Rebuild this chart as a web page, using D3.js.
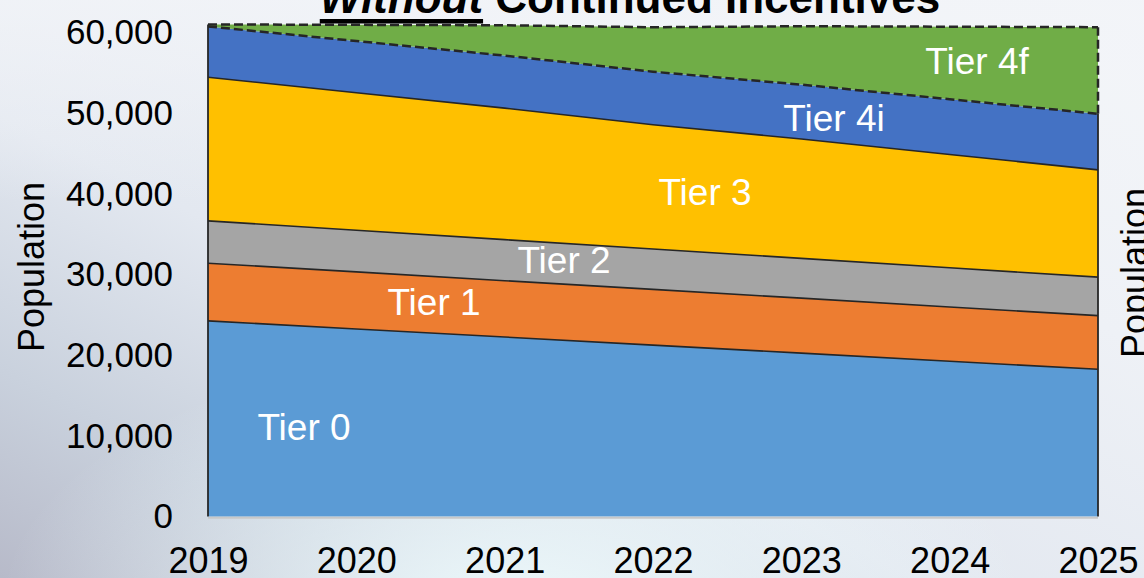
<!DOCTYPE html>
<html>
<head>
<meta charset="utf-8">
<script src="https://cdn.jsdelivr.net/npm/d3@7"></script>
<style>
  html, body { margin: 0; padding: 0; overflow: hidden; background: #e8ecf2; }
  svg { display: block; font-family: "Liberation Sans", Arial, sans-serif; }
</style>
</head>
<body>
<svg id="chart" width="1144" height="578"></svg>
<script>
// ---- data ----
const years = [2019, 2020, 2021, 2022, 2023, 2024, 2025];
const tierNames = ["Tier 0", "Tier 1", "Tier 2", "Tier 3", "Tier 4i", "Tier 4f"];
const tier0  = [24250, 23250, 22250, 21250, 20250, 19250, 18250];
const tier1  = [7150, 7070, 6980, 6900, 6820, 6730, 6650];
const tier2  = [5250, 5170, 5090, 5010, 4930, 4850, 4770];
const tier3  = [17800, 17050, 16300, 15400, 14800, 14050, 13300];
const tier4i = [6300, 6400, 6520, 6580, 6740, 6850, 6950];
const tier4f = [250, 2010, 3760, 5510, 7240, 8990, 10740];
const yTicks = [0, 10000, 20000, 30000, 40000, 50000, 60000];
const titleItalic = "Without";
const titleRest = " Continued Incentives";
const axisTitle = "Population";

// ---- layout / style ----
const W = 1144, H = 578;
const colors = ["#5B9BD5", "#ED7D31", "#A5A5A5", "#FFC000", "#4472C4", "#70AD47"];
const svg = d3.select("#chart");

// background gradient
const defs = svg.append("defs");
const lg = defs.append("linearGradient").attr("id", "bg")
  .attr("x1", "0%").attr("y1", "100%").attr("x2", "100%").attr("y2", "0%");
[["0%", "#b7bac9"], ["18%", "#c9d1dd"], ["40%", "#e3e8f0"], ["70%", "#eef1f6"], ["100%", "#f4f6f9"]]
  .forEach(([o, c]) => lg.append("stop").attr("offset", o).attr("stop-color", c));
const rg = defs.append("radialGradient").attr("id", "glow")
  .attr("cx", "45%").attr("cy", "105%").attr("r", "45%");
rg.append("stop").attr("offset", "0%").attr("stop-color", "#eefafc").attr("stop-opacity", 0.95);
rg.append("stop").attr("offset", "100%").attr("stop-color", "#eefafc").attr("stop-opacity", 0);
const lg2 = defs.append("linearGradient").attr("id", "topfade")
  .attr("x1", "0%").attr("y1", "0%").attr("x2", "0%").attr("y2", "100%");
lg2.append("stop").attr("offset", "0%").attr("stop-color", "#f2f4f8").attr("stop-opacity", 0.8);
lg2.append("stop").attr("offset", "35%").attr("stop-color", "#f2f4f8").attr("stop-opacity", 0);

svg.append("rect").attr("width", W).attr("height", H).attr("fill", "url(#bg)");
svg.append("rect").attr("width", W).attr("height", H).attr("fill", "url(#topfade)");
svg.append("rect").attr("width", W).attr("height", H).attr("fill", "url(#glow)");

const x = d3.scaleLinear().domain([2019, 2025]).range([208, 1098]);
const y = d3.scaleLinear().domain([0, 60000]).range([516.5, 32.5]);

const series = [tier0, tier1, tier2, tier3, tier4i, tier4f];
const table = years.map((yr, i) => {
  const o = { year: yr };
  tierNames.forEach((n, k) => o[n] = series[k][i]);
  return o;
});
const stack = d3.stack().keys(tierNames)(table);

const area = d3.area().x(d => x(d.data.year)).y0(d => y(d[0])).y1(d => y(d[1]));
const line = d3.line().x(d => x(d.data.year)).y(d => y(d[1]));

const g = svg.append("g");
g.selectAll("path.area").data(stack).join("path")
  .attr("class", "area")
  .attr("d", area)
  .attr("fill", (d, i) => colors[i]);

const strokeCol = "#262626";
// top boundaries
stack.forEach((s, i) => {
  const dashed = i >= 4;
  g.append("path").attr("d", line(s)).attr("fill", "none")
    .attr("stroke", strokeCol).attr("stroke-width", dashed ? 2.5 : 1.6)
    .attr("stroke-dasharray", dashed ? "9,4" : null);
});
// left and right edges
const first = stack.map(s => s[0]);
const last = stack.map(s => s[s.length - 1]);
g.append("line").attr("x1", x(2019)).attr("x2", x(2019))
  .attr("y1", y(0)).attr("y2", y(first[5][1]))
  .attr("stroke", strokeCol).attr("stroke-width", 1.8);
g.append("line").attr("x1", x(2025)).attr("x2", x(2025))
  .attr("y1", y(0)).attr("y2", y(last[4][1]))
  .attr("stroke", strokeCol).attr("stroke-width", 1.8);
g.append("line").attr("x1", x(2025)).attr("x2", x(2025))
  .attr("y1", y(last[4][1])).attr("y2", y(last[5][1]))
  .attr("stroke", strokeCol).attr("stroke-width", 2.5).attr("stroke-dasharray", "9,4");

// x-axis baseline
svg.append("line").attr("x1", x(2019)).attr("x2", x(2025))
  .attr("y1", y(0) + 1.2).attr("y2", y(0) + 1.2)
  .attr("stroke", "#c8c8c8").attr("stroke-width", 2);

// y axis
const yAxis = d3.axisLeft(y).tickValues(yTicks).tickFormat(d3.format(",")).tickSize(0).tickPadding(35);
const ya = svg.append("g").attr("transform", `translate(${x(2019)},0)`).call(yAxis);
ya.select(".domain").remove();
ya.selectAll("text").attr("font-size", 35).attr("fill", "#000")
  .attr("font-family", "Liberation Sans, Arial, sans-serif");

// x axis
const xAxis = d3.axisBottom(x).tickValues(years).tickFormat(d3.format("d")).tickSize(0).tickPadding(0);
const xa = svg.append("g").attr("transform", `translate(0,${y(0)})`).call(xAxis);
xa.select(".domain").remove();
xa.selectAll("text").attr("font-size", 36).attr("fill", "#000").attr("dy", null)
  .attr("y", 56.5)
  .attr("font-family", "Liberation Sans, Arial, sans-serif");

// axis titles
svg.append("text").attr("transform", "translate(44,267) rotate(-90)")
  .attr("text-anchor", "middle").attr("font-size", 36).attr("fill", "#000").text(axisTitle);
svg.append("text").attr("transform", "translate(1147,273) rotate(-90)")
  .attr("text-anchor", "middle").attr("font-size", 36).attr("fill", "#000").text(axisTitle);

// title
const t = svg.append("text").attr("x", 630).attr("y", 13).attr("text-anchor", "middle")
  .attr("font-size", 44).attr("font-weight", "bold").attr("fill", "#000");
t.append("tspan").attr("font-style", "italic").text(titleItalic);
t.append("tspan").text(titleRest);
const tb = t.node().getBBox();
const wItalic = t.node().getSubStringLength(0, titleItalic.length);
svg.append("rect").attr("x", tb.x).attr("y", 19).attr("width", wItalic).attr("height", 4.5).attr("fill", "#000");

// series labels
const labelPos = [[304, 440], [434, 315], [564, 273], [705, 205], [834, 131], [977, 74]];
svg.selectAll("text.lbl").data(tierNames).join("text")
  .attr("class", "lbl")
  .attr("x", (d, i) => labelPos[i][0]).attr("y", (d, i) => labelPos[i][1])
  .attr("text-anchor", "middle").attr("font-size", 37).attr("fill", "#fff")
  .text(d => d);
</script>
</body>
</html>
